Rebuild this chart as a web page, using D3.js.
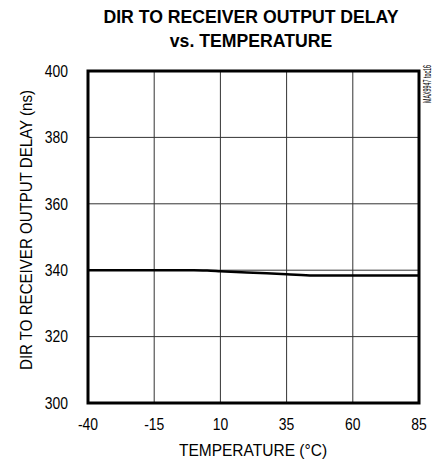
<!DOCTYPE html>
<html>
<head>
<meta charset="utf-8">
<script src="https://cdn.jsdelivr.net/npm/d3@7"></script>
<style>
  body { margin: 0; background: #fff; }
  svg text { font-family: "Liberation Sans Narrow", "Arial Narrow", "Liberation Sans", Arial, sans-serif; fill: #000; }
</style>
</head>
<body>
<svg id="chart" width="433" height="460"></svg>
<script>
// Data
const temps = [-40, -15, 0, 5, 10, 20, 35, 45, 60, 85];
const delay = [340, 340, 340, 339.9, 339.7, 339.3, 338.8, 338.4, 338.4, 338.4];

const xTicks = [-40, -15, 10, 35, 60, 85];
const yTicks = [300, 320, 340, 360, 380, 400];

const svg = d3.select("#chart");

// Plot box
const plotLeft = 88, plotRight = 419, plotTop = 71, plotBottom = 403;

const x = d3.scaleLinear().domain([-40, 85]).range([plotLeft, plotRight]);
const y = d3.scaleLinear().domain([300, 400]).range([plotBottom, plotTop]);

// squeeze text horizontally to mimic a narrow face
function narrow(sel, k) {
    sel.each(function() {
        const w = this.getComputedTextLength();
        d3.select(this)
            .attr("textLength", w * k)
            .attr("lengthAdjust", "spacingAndGlyphs");
    });
}

// Grid lines
svg.append("g")
    .selectAll("line")
    .data(xTicks.slice(1, -1))
    .join("line")
    .attr("x1", d => x(d)).attr("x2", d => x(d))
    .attr("y1", plotTop).attr("y2", plotBottom)
    .attr("stroke", "#333").attr("stroke-width", 1);

svg.append("g")
    .selectAll("line")
    .data(yTicks.slice(1, -1))
    .join("line")
    .attr("x1", plotLeft).attr("x2", plotRight)
    .attr("y1", d => y(d)).attr("y2", d => y(d))
    .attr("stroke", "#333").attr("stroke-width", 1);

// Data curve
const line = d3.line()
    .x((d, i) => x(temps[i]))
    .y(d => y(d))
    .curve(d3.curveMonotoneX);

svg.append("path")
    .datum(delay)
    .attr("fill", "none")
    .attr("stroke", "#000")
    .attr("stroke-width", 2.5)
    .attr("d", line);

// Frame
svg.append("rect")
    .attr("x", plotLeft).attr("y", plotTop)
    .attr("width", plotRight - plotLeft).attr("height", plotBottom - plotTop)
    .attr("fill", "none").attr("stroke", "#000").attr("stroke-width", 3);

// Tick labels
svg.append("g")
    .selectAll("text")
    .data(xTicks)
    .join("text")
    .attr("x", d => x(d))
    .attr("y", 430)
    .attr("text-anchor", "middle")
    .attr("font-size", 16)
    .text(d => d)
    .call(narrow, 0.87);

svg.append("g")
    .selectAll("text")
    .data(yTicks)
    .join("text")
    .attr("x", 68)
    .attr("y", d => y(d))
    .attr("dy", "0.36em")
    .attr("text-anchor", "end")
    .attr("font-size", 16)
    .text(d => d)
    .call(narrow, 0.87);

// Titles
svg.append("text")
    .attr("x", 251).attr("y", 23)
    .attr("text-anchor", "middle")
    .attr("font-size", 18).attr("font-weight", "bold")
    .text("DIR TO RECEIVER OUTPUT DELAY")
    .call(narrow, 0.98);

svg.append("text")
    .attr("x", 251).attr("y", 47)
    .attr("text-anchor", "middle")
    .attr("font-size", 18).attr("font-weight", "bold")
    .text("vs. TEMPERATURE")
    .call(narrow, 0.98);

svg.append("text")
    .attr("x", 253).attr("y", 456)
    .attr("text-anchor", "middle")
    .attr("font-size", 16)
    .text("TEMPERATURE (°C)")
    .call(narrow, 0.97);

svg.append("text")
    .attr("transform", "translate(32,230) rotate(-90)")
    .attr("text-anchor", "middle")
    .attr("font-size", 16)
    .attr("textLength", 280)
    .attr("lengthAdjust", "spacingAndGlyphs")
    .text("DIR TO RECEIVER OUTPUT DELAY (ns)");

svg.append("text")
    .attr("transform", "translate(431,84) rotate(-90)")
    .attr("text-anchor", "middle")
    .attr("font-size", 10)
    .attr("textLength", 38)
    .attr("lengthAdjust", "spacingAndGlyphs")
    .text("MAX9947 toc16");
</script>
</body>
</html>
